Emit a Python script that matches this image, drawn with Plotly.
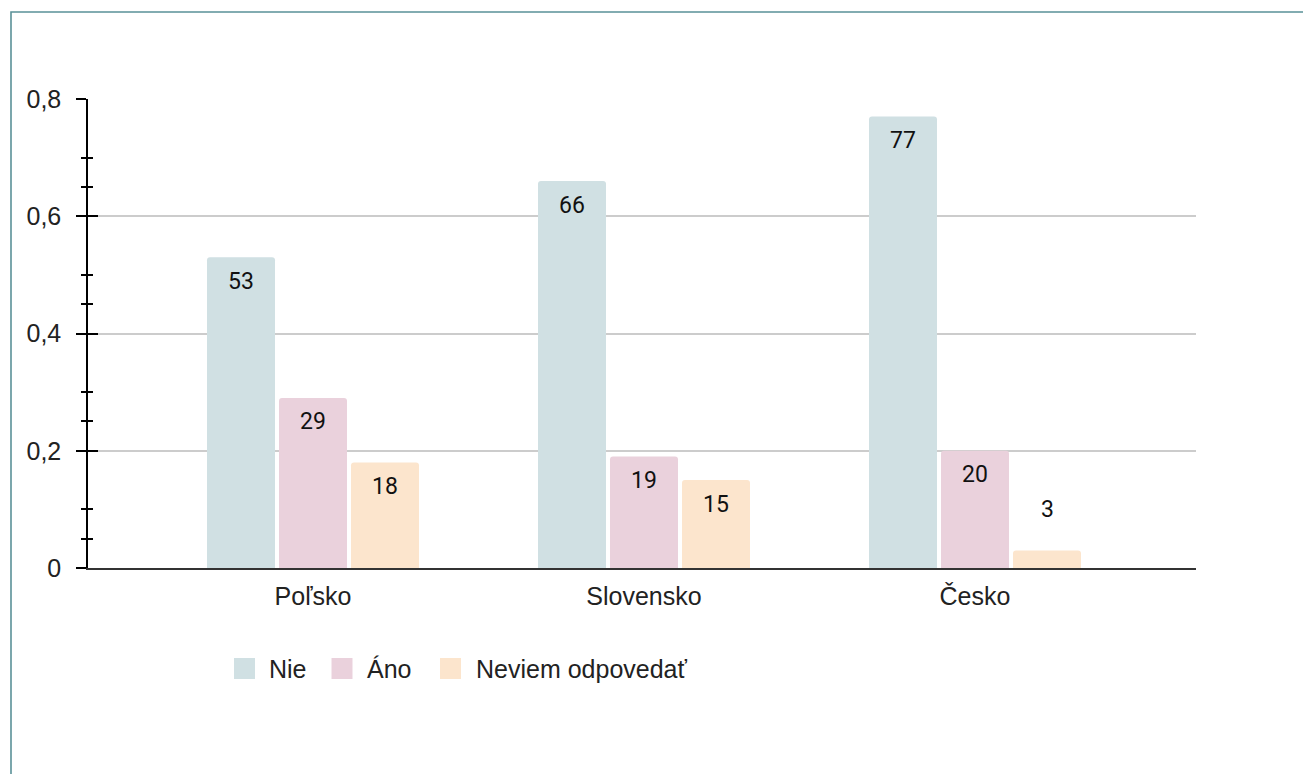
import plotly.graph_objects as go

# Survey answers by country (shares of respondents)
countries = ["Poľsko", "Slovensko", "Česko"]
answers = ["Nie", "Áno", "Neviem odpovedať"]
nie = [0.53, 0.66, 0.77]
ano = [0.29, 0.19, 0.20]
neviem = [0.18, 0.15, 0.03]
y_ticks = [0, 0.2, 0.4, 0.6, 0.8]
y_minor = [0.05, 0.1, 0.25, 0.3, 0.45, 0.5, 0.65, 0.7]

series = [nie, ano, neviem]
colors = ["#d0e0e3", "#ead1dc", "#fce5cd"]

W, H = 1303, 774
ML, MR, MT, MB = 88, 107, 99, 206
PW, PH = W - ML - MR, H - MT - MB
BAR_PITCH = 72  # px between neighbouring bars of a group

TXT = "#222222"
SANS = "Liberation Sans, Arial, sans-serif"
FS = 25


def px_x(p):
    return (p - ML) / PW


def px_y(p):
    return (H - MB - p) / PH


fig = go.Figure()
for name, vals, col in zip(answers, series, colors):
    fig.add_trace(go.Bar(
        x=countries, y=vals, name=name, marker_color=col,
        marker_line_width=0, showlegend=False, hoverinfo="x+y",
    ))

# helper trace so the mirrored tick axis exists
fig.add_trace(go.Scatter(x=[], y=[], yaxis="y2", showlegend=False, hoverinfo="skip"))

# value labels (percent) inside the top of each bar, above very short bars
annotations = []
for i, vals in enumerate(series):
    for c, v in zip(countries, vals):
        annotations.append(dict(
            x=c, y=v, xref="x", yref="y", text=str(round(v * 100)),
            showarrow=False, xshift=(i - 1) * BAR_PITCH,
            yshift=-24 if v >= 0.06 else 41, yanchor="middle",
            font=dict(family="Roboto", size=23, color="#111111"),
        ))

# legend row
legend_sq = [244.5, 342, 450.5]
legend_tx = [267, 365, 474]
legend_y = 668.5
shapes = []
for name, col, sx, tx in zip(answers, colors, legend_sq, legend_tx):
    shapes.append(dict(
        type="rect", xref="paper", yref="paper",
        x0=px_x(sx - 10.5), x1=px_x(sx + 10.5),
        y0=px_y(legend_y + 10.5), y1=px_y(legend_y - 10.5),
        fillcolor=col, line_width=0,
    ))
    annotations.append(dict(
        x=px_x(tx), y=px_y(legend_y), xref="paper", yref="paper",
        text=name, showarrow=False, xanchor="left", yanchor="middle",
        font=dict(family=SANS, size=FS, color=TXT),
    ))

# outer frame
shapes.append(dict(
    type="rect", xref="paper", yref="paper",
    x0=px_x(11), x1=px_x(W + 20), y0=px_y(H + 20), y1=px_y(12),
    line=dict(color="#5a9198", width=1.6), fillcolor="rgba(0,0,0,0)",
    layer="above",
))

fig.update_layout(
    width=W, height=H,
    margin=dict(l=ML, r=MR, t=MT, b=MB, pad=0),
    paper_bgcolor="white", plot_bgcolor="white",
    separators=", ",
    barmode="group", bargap=0.3474, bargroupgap=0.0556, barcornerradius=3,
    font=dict(family=SANS, size=FS, color=TXT),
    annotations=annotations, shapes=shapes,
    xaxis=dict(
        range=[-0.6798, 2.6677], showgrid=False, zeroline=False,
        showline=True, linecolor="#333333", linewidth=1.5,
        ticks="", ticklabelstandoff=5,
        tickfont=dict(family=SANS, size=FS, color=TXT),
    ),
    yaxis=dict(
        range=[0, 0.8], tickmode="array", tickvals=y_ticks,
        showgrid=True, gridcolor="#cccccc", gridwidth=1.5, zeroline=False,
        showline=True, linecolor="#000000", linewidth=1.5,
        ticks="outside", ticklen=10, tickwidth=1.5, tickcolor="#000000",
        ticklabelstandoff=10,
        tickfont=dict(family=SANS, size=FS, color=TXT),
        minor=dict(tickmode="array", tickvals=y_minor, ticks="outside",
                   ticklen=5, tickwidth=1.5, tickcolor="#000000", showgrid=False),
    ),
    yaxis2=dict(
        range=[0, 0.8], overlaying="y", side="left", anchor="x",
        tickmode="array", tickvals=y_ticks, showticklabels=False,
        showgrid=False, zeroline=False, showline=False,
        ticks="inside", ticklen=10, tickwidth=1.5, tickcolor="#000000",
        minor=dict(tickmode="array", tickvals=y_minor, ticks="inside",
                   ticklen=5, tickwidth=1.5, tickcolor="#000000", showgrid=False),
    ),
)

fig.write_html("out.html")
